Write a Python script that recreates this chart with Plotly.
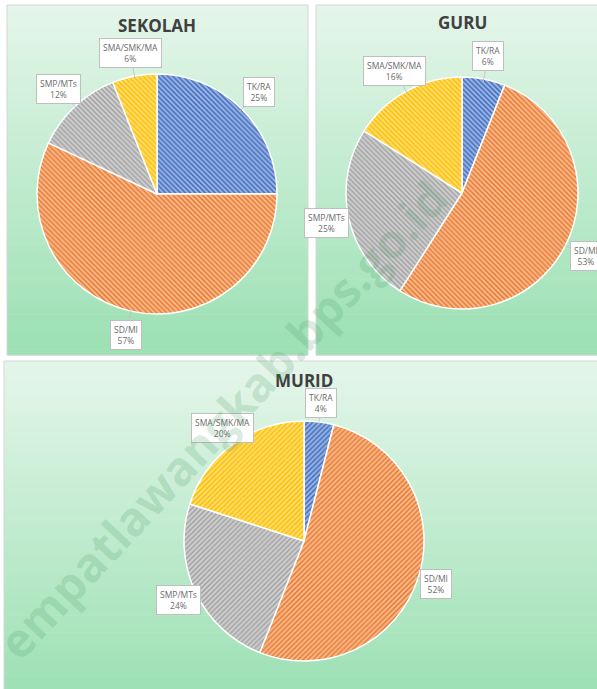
import math
import plotly.graph_objects as go

# ---- data ----
categories = ["TK/RA", "SD/MI", "SMP/MTs", "SMA/SMK/MA"]
sekolah = [25, 57, 12, 6]
guru = [6, 53, 25, 16]
murid = [4, 52, 24, 20]
titles = ["SEKOLAH", "GURU", "MURID"]

slice_colors = ["#4472C4", "#ED7D31", "#A5A5A5", "#FFC000"]

W, H = 597, 689

# panel geometry in page pixels: frame box, pie centre, pie radius, title y, label distance
panels = [
    dict(values=sekolah, box=(7, 5, 308, 355), c=(157, 194), r=120, ty=25, k=1.2, hatch="\\"),
    dict(values=guru, box=(316, 5, 600, 355), c=(462, 193), r=116, ty=23, k=1.2, hatch="\\"),
    dict(values=murid, box=(4, 361, 601, 700), c=(304, 541), r=120, ty=380, k=1.16, hatch="/"),
]


def px(x):
    return x / W


def py(y):
    return 1 - y / H


def mix(a, b, t):
    a = [int(a[i:i + 2], 16) for i in (1, 3, 5)]
    b = [int(b[i:i + 2], 16) for i in (1, 3, 5)]
    return "rgb(%d,%d,%d)" % tuple(round(a[i] + (b[i] - a[i]) * t) for i in range(3))


fig = go.Figure()
shapes = []
annotations = []

GRAD_TOP, GRAD_BOTTOM = "#e5f6ea", "#9be0b3"

for p, title in zip(panels, titles):
    x0, y0, x1, y1 = p["box"]
    # vertical gradient background built from thin bands
    n = 60
    for i in range(n):
        ya = y0 + (y1 - y0) * i / n
        yb = y0 + (y1 - y0) * (i + 1) / n + 0.6
        shapes.append(dict(type="rect", xref="paper", yref="paper",
                           x0=px(x0), x1=px(x1), y0=py(yb), y1=py(ya),
                           fillcolor=mix(GRAD_TOP, GRAD_BOTTOM, (i + 0.5) / n),
                           line=dict(width=0), layer="below"))
    shapes.append(dict(type="rect", xref="paper", yref="paper",
                       x0=px(x0), x1=px(x1), y0=py(y1), y1=py(y0),
                       line=dict(color="#d6d6d6", width=1), layer="below"))

    cx, cy = p["c"]
    r = p["r"]
    fig.add_trace(go.Pie(
        labels=categories,
        values=p["values"],
        sort=False,
        direction="clockwise",
        rotation=0,
        textinfo="none",
        hole=0,
        marker=dict(
            colors=slice_colors,
            line=dict(color="white", width=1.5),
            pattern=dict(shape=p["hatch"], fgcolor="white", bgcolor=slice_colors,
                         size=3.5, solidity=0.5, fillmode="overlay"),
        ),
        domain=dict(x=[px(cx - r), px(cx + r)], y=[py(cy + r), py(cy - r)]),
        showlegend=False,
    ))

    # title
    annotations.append(dict(text="<b>%s</b>" % title, x=px(cx), y=py(p["ty"]),
                            xref="paper", yref="paper", showarrow=False,
                            xanchor="center", yanchor="middle",
                            font=dict(family="Open Sans", size=17, color="#404040")))

    # callout labels placed along each slice's mid-angle
    total = sum(p["values"])
    cum = 0
    for lab, v in zip(categories, p["values"]):
        theta = math.radians(360 * (cum + v / 2) / total)
        cum += v
        sx, sy = math.sin(theta), -math.cos(theta)
        tipx, tipy = cx + 0.97 * r * sx, cy + 0.97 * r * sy
        bx, by = cx + p["k"] * r * sx, cy + p["k"] * r * sy
        annotations.append(dict(
            text="%s<br>%d%%" % (lab, v),
            x=px(tipx), y=py(tipy), xref="paper", yref="paper",
            ax=bx - tipx, ay=by - tipy,
            showarrow=True, arrowhead=0, arrowwidth=0.8, arrowcolor="#bfbfbf",
            bgcolor="white", bordercolor="#bfbfbf", borderwidth=1, borderpad=3,
            font=dict(family="Open Sans", size=8.5, color="#6b6b6b"),
        ))

# site watermark
annotations.append(dict(text="<b>empatlawangkab.bps.go.id</b>", x=px(222), y=py(420),
                        xref="paper", yref="paper", showarrow=False, textangle=-47,
                        xanchor="center", yanchor="middle",
                        font=dict(family="Open Sans", size=47, color="rgba(70,150,95,0.2)")))

fig.update_layout(
    width=W, height=H,
    margin=dict(l=0, r=0, t=0, b=0),
    paper_bgcolor="white",
    plot_bgcolor="white",
    shapes=shapes,
    annotations=annotations,
)

fig.write_html("out.html")
